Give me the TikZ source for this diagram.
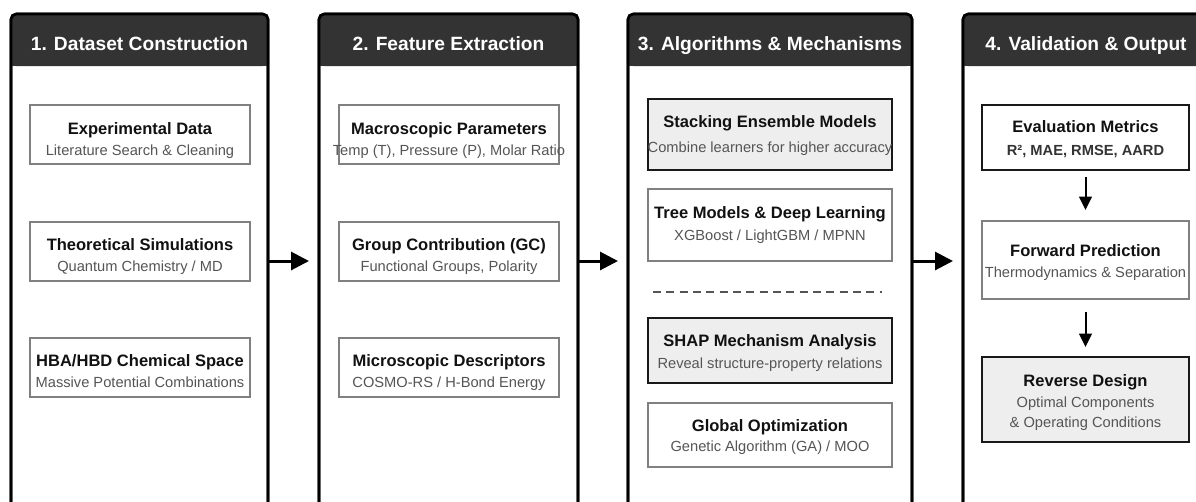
\documentclass[tikz,border=0pt]{standalone}
\usepackage{fontspec}
\setmainfont{Liberation Sans}
\usetikzlibrary{arrows.meta,calc}
\definecolor{hdrgray}{HTML}{333333}
\definecolor{boxgray}{HTML}{808080}
\definecolor{hifill}{HTML}{EEEEEE}
\definecolor{subgray}{HTML}{555555}
\definecolor{titleblack}{HTML}{111111}
\begin{document}
\begin{tikzpicture}[x=0.75pt,y=-0.75pt,
  panel/.style={draw=black, line width=2pt, fill=white, rounded corners=4pt, minimum height=370.5pt, inner sep=0pt, outer sep=0pt},
  frame/.style={draw=black, line width=2pt, rounded corners=4pt},
  hdrtext/.style={anchor=base, inner sep=0pt, text=white, font=\fontsize{14.4}{16}\selectfont\bfseries},
  plainbox/.style={draw=boxgray, line width=1.5pt, fill=white, inner sep=0pt, outer sep=0pt},
  hibox/.style={draw=black!90, line width=1.5pt, fill=hifill, inner sep=0pt, outer sep=0pt},
  keybox/.style={draw=black!90, line width=1.5pt, fill=white, inner sep=0pt, outer sep=0pt},
  ttl/.style={anchor=base, inner sep=0pt, text=titleblack, font=\fontsize{12.4}{14}\selectfont\bfseries},
  subt/.style={anchor=base, inner sep=0pt, text=subgray, font=\fontsize{11}{13}\selectfont},
  subbold/.style={anchor=base, inner sep=0pt, text=hdrgray, font=\fontsize{11}{13}\selectfont\bfseries},
  bigarrow/.style={-{Triangle[length=13.5pt,width=13.5pt]}, line width=2.25pt, shorten >=7.5pt},
  smallarrow/.style={-{Triangle[length=10pt,width=9.5pt]}, line width=1.5pt},
  divider/.style={draw=subgray, line width=1.5pt, dash pattern=on 6pt off 4pt}
]
\useasboundingbox (0,0) rectangle (1196,501);
\fill[white] (0,0) rectangle (1196,501);
\clip (0,0) rectangle (1196,501);

% panels
\node[panel, minimum width=192.75pt] (p1) at (139.5,261) {};
\node[panel, minimum width=194.25pt] (p2) at (448.5,261) {};
\node[panel, minimum width=213pt] (p3) at (770,261) {};
\node[panel, minimum width=184.5pt] (p4) at (1086,261) {};

\foreach \p in {p1,p2,p3,p4}{
  \fill[hdrgray, rounded corners=4pt] (\p.north west) rectangle ($(\p.north east)+(0,52)$);
  \fill[hdrgray] ($(\p.north west)+(0,20)$) rectangle ($(\p.north east)+(0,52)$);
  \draw[frame] (\p.north west) rectangle (\p.south east);
}

\node[hdrtext] (h1) at (139.5,50) {1. Dataset Construction};
\node[hdrtext] (h2) at (448.5,50) {2. Feature Extraction};
\node[hdrtext] (h3) at (770,50) {3. Algorithms \& Mechanisms};
\node[hdrtext] (h4) at (1086,50) {4. Validation \& Output};

% panel 1
\node[plainbox, minimum width=165pt, minimum height=44.25pt] (b11) at (140,134.5) {};
\node[plainbox, minimum width=165pt, minimum height=44.25pt] (b12) at (140,251) {};
\node[plainbox, minimum width=165pt, minimum height=44.25pt] (b13) at (140,367.5) {};
\node[ttl] (t11) at (140,134) {Experimental Data};
\node[subt] (s11) at (140,155) {Literature Search \& Cleaning};
\node[ttl] (t12) at (140,250) {Theoretical Simulations};
\node[subt] (s12) at (140,271) {Quantum Chemistry / MD};
\node[ttl] (t13) at (140,366) {HBA/HBD Chemical Space};
\node[subt] (s13) at (140,387.5) {Massive Potential Combinations};

% panel 2
\node[plainbox, minimum width=165pt, minimum height=44.25pt] (b21) at (449,134.5) {};
\node[plainbox, minimum width=165pt, minimum height=44.25pt] (b22) at (449,251) {};
\node[plainbox, minimum width=165pt, minimum height=44.25pt] (b23) at (449,367.5) {};
\node[ttl] (t21) at (449,134) {Macroscopic Parameters};
\node[subt] (s21) at (449,155) {Temp (T), Pressure (P), Molar Ratio};
\node[ttl] (t22) at (449,250) {Group Contribution (GC)};
\node[subt] (s22) at (449,271) {Functional Groups, Polarity};
\node[ttl] (t23) at (449,366) {Microscopic Descriptors};
\node[subt] (s23) at (449,387.5) {COSMO-RS / H-Bond Energy};

% panel 3
\node[hibox, minimum width=183pt, minimum height=53.25pt] (b31) at (770,134.5) {};
\node[plainbox, minimum width=183pt, minimum height=54pt] (b32) at (770,225) {};
\draw[divider] (653,292) -- (882,292);
\node[hibox, minimum width=183pt, minimum height=48.75pt] (b33) at (770,350.5) {};
\node[plainbox, minimum width=183pt, minimum height=48pt] (b34) at (770,435) {};
\node[ttl] (t31) at (770,127) {Stacking Ensemble Models};
\node[subt] (s31) at (770,152) {Combine learners for higher accuracy};
\node[ttl] (t32) at (770,218) {Tree Models \& Deep Learning};
\node[subt] (s32) at (770,240) {XGBoost / LightGBM / MPNN};
\node[ttl] (t33) at (770,346.7) {SHAP Mechanism Analysis};
\node[subt] (s33) at (770,368.3) {Reveal structure-property relations};
\node[ttl] (t34) at (770,431.7) {Global Optimization};
\node[subt] (s34) at (770,451.7) {Genetic Algorithm (GA) / MOO};

% panel 4
\node[keybox, minimum width=155.25pt, minimum height=48.75pt] (b41) at (1085.5,137.5) {};
\node[plainbox, minimum width=155.25pt, minimum height=58.5pt] (b42) at (1085.5,260) {};
\node[hibox, minimum width=155.25pt, minimum height=63.75pt] (b43) at (1085.5,399.5) {};
\node[ttl] (t41) at (1085.5,132.7) {Evaluation Metrics};
\node[subbold] (s41) at (1085.5,155) {R², MAE, RMSE, AARD};
\node[ttl] (t42) at (1085.5,256) {Forward Prediction};
\node[subt] (s42) at (1085.5,277) {Thermodynamics \& Separation};
\node[ttl] (t43) at (1085.5,386) {Reverse Design};
\node[subt] (s43a) at (1085.5,407) {Optimal Components};
\node[subt] (s43b) at (1085.5,427) {\& Operating Conditions};

\draw[smallarrow, shorten <=5.25pt, shorten >=8.25pt] (b41) -- (b42);
\draw[smallarrow, shorten <=9.75pt, shorten >=7.5pt] (b42) -- (b43);

% arrows between panels
\draw[bigarrow] (p1) -- (p2);
\draw[bigarrow] (p2) -- (p3);
\draw[bigarrow] (p3) -- (p4);
\end{tikzpicture}
\end{document}
